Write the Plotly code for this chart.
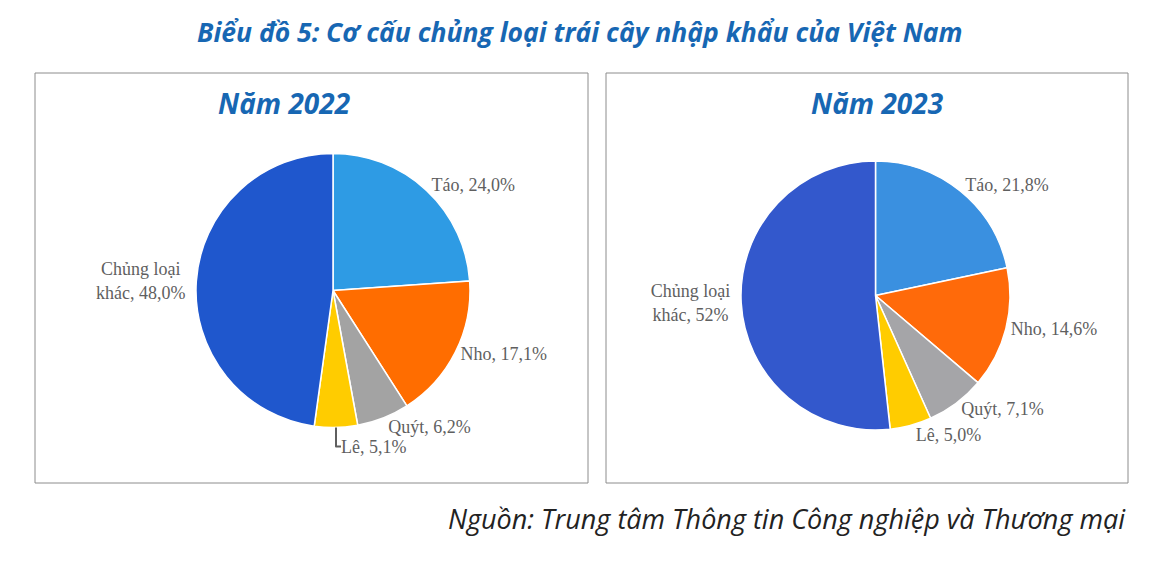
import plotly.graph_objects as go

W, H = 1153, 564

# data
categories = ["Táo", "Nho", "Quýt", "Lê", "Chủng loại khác"]
share_2022 = [24.0, 17.1, 6.2, 5.1, 48.0]
share_2023 = [21.8, 14.6, 7.1, 5.0, 52]
pct_text_2022 = ["24,0%", "17,1%", "6,2%", "5,1%", "48,0%"]
pct_text_2023 = ["21,8%", "14,6%", "7,1%", "5,0%", "52%"]

colors_2022 = ["#2E9BE4", "#FF6D00", "#A3A3A3", "#FFCC00", "#1F57CD"]
colors_2023 = ["#3A90E0", "#FF6A0A", "#A5A5A8", "#FFCC00", "#3358CC"]

BLUE = "#1767B3"
LABEL_FONT = dict(family="Liberation Serif, Times New Roman, serif", size=18, color="#5f5f5f")


def px_x(v):
    return v / W


def px_y(v):
    return 1 - v / H


def display_labels(cats):
    # long name wraps onto two lines as in the source chart
    return [c.replace(" khác", "<br>khác") for c in cats]


def make_pie(values, texts, colors, box):
    x0, x1, y0, y1 = box
    return go.Pie(
        labels=display_labels(categories),
        values=values,
        text=texts,
        texttemplate="%{label}, %{text}",
        textposition="outside",
        textfont=LABEL_FONT,
        sort=False,
        direction="clockwise",
        rotation=0,
        marker=dict(colors=colors, line=dict(color="white", width=1.5)),
        domain=dict(x=[px_x(x0), px_x(x1)], y=[px_y(y1), px_y(y0)]),
        showlegend=False,
        hoverinfo="label+text",
    )


fig = go.Figure()
fig.add_trace(make_pie(share_2022, pct_text_2022, colors_2022, (196, 470, 153, 428)))
fig.add_trace(make_pie(share_2023, pct_text_2023, colors_2023, (741, 1010, 161, 430)))

shapes = []
for (a, b) in [(35, 588), (606, 1128)]:
    shapes.append(dict(type="rect", xref="paper", yref="paper",
                       x0=px_x(a), x1=px_x(b), y0=px_y(483), y1=px_y(73),
                       line=dict(color="#8C8C8C", width=1), fillcolor="rgba(0,0,0,0)"))


def note(text, x, y, size, color, family, xanchor="center"):
    return dict(text=text, x=px_x(x), y=px_y(y), xref="paper", yref="paper",
                xanchor=xanchor, yanchor="middle", showarrow=False,
                font=dict(family=family, size=size, color=color))


annotations = [
    note("<b><i>Biểu đồ 5: Cơ cấu chủng loại trái cây nhập khẩu của Việt Nam</i></b>",
         580, 32, 26.5, BLUE, "Open Sans, sans-serif"),
    note("<b><i>Năm 2022</i></b>", 284, 103, 28, BLUE, "Open Sans, sans-serif"),
    note("<b><i>Năm 2023</i></b>", 877, 103, 28, BLUE, "Open Sans, sans-serif"),
    note("<i>Nguồn: Trung tâm Thông tin Công nghiệp và Thương mại</i>",
         1128, 518, 27, "#222222", "Open Sans, sans-serif", xanchor="right"),
]

fig.update_layout(
    width=W, height=H,
    margin=dict(l=0, r=0, t=0, b=0),
    paper_bgcolor="white",
    plot_bgcolor="white",
    shapes=shapes,
    annotations=annotations,
)

fig.write_html("out.html", config={"displayModeBar": False},
               post_script="document.body.style.margin='0';")
